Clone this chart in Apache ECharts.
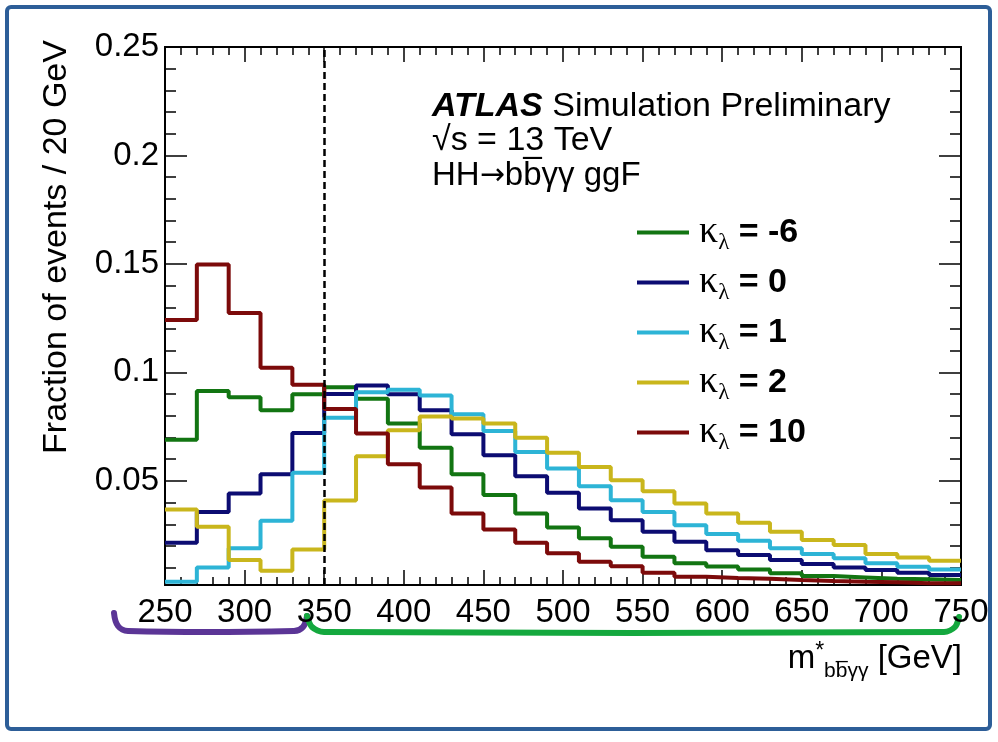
<!DOCTYPE html>
<html>
<head>
<meta charset="utf-8">
<script src="https://cdn.jsdelivr.net/npm/echarts@6/dist/echarts.min.js"></script>
<style>
  html, body { margin: 0; padding: 0; background: #ffffff; }
  #chart { width: 998px; height: 742px; }
</style>
</head>
<body>
<div id="chart"></div>
<script>
// Bin edges of m*(bbyy) in GeV (20 GeV bins)
const binEdges = [250, 270, 290, 310, 330, 350, 370, 390, 410, 430, 450, 470, 490,
                  510, 530, 550, 570, 590, 610, 630, 650, 670, 690, 710, 730, 750];

// Normalised fraction of events per bin for each kappa_lambda hypothesis
const kl_m6 = [0.0690, 0.0914, 0.0886, 0.0825, 0.0899, 0.0932, 0.0879, 0.0764, 0.0653, 0.0531,
               0.0435, 0.0350, 0.0285, 0.0235, 0.0196, 0.0150, 0.0120, 0.0105, 0.0092, 0.0074,
               0.0061, 0.0055, 0.0049, 0.0046, 0.0043];
const kl_0  = [0.0215, 0.0357, 0.0442, 0.0531, 0.0721, 0.0900, 0.0940, 0.0899, 0.0825, 0.0715,
               0.0618, 0.0521, 0.0445, 0.0373, 0.0319, 0.0265, 0.0219, 0.0180, 0.0158, 0.0135,
               0.0117, 0.0101, 0.0089, 0.0077, 0.0066];
const kl_1  = [0.0035, 0.0101, 0.0189, 0.0316, 0.0537, 0.0791, 0.0909, 0.0920, 0.0894, 0.0807,
               0.0730, 0.0633, 0.0557, 0.0475, 0.0411, 0.0357, 0.0295, 0.0255, 0.0224, 0.0189,
               0.0163, 0.0143, 0.0120, 0.0104, 0.0092];
const kl_2  = [0.0368, 0.0288, 0.0135, 0.0086, 0.0184, 0.0410, 0.0613, 0.0733, 0.0797, 0.0787,
               0.0764, 0.0699, 0.0630, 0.0564, 0.0503, 0.0452, 0.0396, 0.0350, 0.0307, 0.0265,
               0.0227, 0.0204, 0.0163, 0.0147, 0.0132];
const kl_10 = [0.1242, 0.1497, 0.1274, 0.1021, 0.0943, 0.0831, 0.0718, 0.0577, 0.0469, 0.0350,
               0.0276, 0.0215, 0.0166, 0.0127, 0.0107, 0.0077, 0.0058, 0.0052, 0.0049, 0.0043,
               0.0038, 0.0035, 0.0033, 0.0028, 0.0028];

const seriesDefs = [
  { name: '-6', values: kl_m6, color: '#127512' },
  { name: '0',  values: kl_0,  color: '#0c0c72' },
  { name: '1',  values: kl_1,  color: '#2db4d6' },
  { name: '2',  values: kl_2,  color: '#c9b61c' },
  { name: '10', values: kl_10, color: '#7c0a0a' }
];

// Axis ticks
const yMajor = [0.05, 0.1, 0.15, 0.2, 0.25];
const yMinor = [0.01, 0.02, 0.03, 0.04, 0.06, 0.07, 0.08, 0.09, 0.11, 0.12, 0.13, 0.14,
                0.16, 0.17, 0.18, 0.19, 0.21, 0.22, 0.23, 0.24];
const yMin = 0.002, yMax = 0.25;
const xMin = 250, xMax = 750;
const cutValue = 350;

const FONT = '"Liberation Sans", Arial, Helvetica, sans-serif';
const SERIF = '"Liberation Serif", "DejaVu Serif", serif';

// Histogram outline: one point per bin edge, last bin repeated at the upper edge
function histPoints(values) {
  return binEdges.map((e, i) => [e, values[Math.min(i, values.length - 1)]]);
}

const chart = echarts.init(document.getElementById('chart'), null, { renderer: 'canvas' });

const frame = { left: 165, top: 47, width: 796, height: 538 };

function yAxisDef(pos, custom, len, withLabels) {
  return {
    type: 'value', position: pos, min: yMin, max: yMax, gridIndex: 0,
    axisLine: { show: true, onZero: false, lineStyle: { color: '#000', width: 2 } },
    axisTick: { show: true, inside: true, length: len, customValues: custom,
                lineStyle: { color: '#000', width: 1.5 } },
    axisLabel: withLabels ? { show: true, customValues: custom, margin: 6,
                fontFamily: FONT, fontSize: 33, color: '#000',
                formatter: v => String(+v.toFixed(2)) } : { show: false },
    splitLine: { show: false }
  };
}

function xAxisDef(pos, withLabels, majorLen, minorLen) {
  return {
    type: 'value', position: pos, min: xMin, max: xMax, interval: 50, gridIndex: 0,
    axisLine: { show: true, onZero: false, lineStyle: { color: '#000', width: 2 } },
    axisTick: { show: true, inside: true, length: majorLen, lineStyle: { color: '#000', width: 1.5 } },
    minorTick: { show: true, splitNumber: 5, length: minorLen, lineStyle: { color: '#000', width: 1.5 } },
    axisLabel: withLabels ? { show: true, margin: 11, fontFamily: FONT, fontSize: 33, color: '#000' }
                          : { show: false },
    splitLine: { show: false }, minorSplitLine: { show: false }
  };
}

const series = seriesDefs.map(d => ({
  name: d.name,
  type: 'line',
  step: 'end',
  xAxisIndex: 0, yAxisIndex: 0,
  data: histPoints(d.values),
  showSymbol: false,
  symbol: 'none',
  lineStyle: { color: d.color, width: 4 },
  itemStyle: { color: d.color },
  clip: true,
  animation: false
}));

// Vertical dashed line marking the selection boundary
series.push({
  name: 'cut', type: 'line', data: [], xAxisIndex: 0, yAxisIndex: 0,
  markLine: {
    silent: true, symbol: 'none', animation: false,
    label: { show: false },
    lineStyle: { color: '#000', type: [7, 4], width: 2.5 },
    data: [{ xAxis: cutValue }]
  }
});

const option = {
  backgroundColor: '#ffffff',
  animation: false,
  grid: Object.assign({ containLabel: false, show: false }, frame),
  xAxis: [xAxisDef('bottom', true, 15, 8), xAxisDef('top', false, 15, 8)],
  yAxis: [
    yAxisDef('left', yMajor, 22, true),
    yAxisDef('left', yMinor, 11, false),
    yAxisDef('right', yMajor, 22, false),
    yAxisDef('right', yMinor, 11, false)
  ],
  legend: {
    orient: 'vertical', left: 637, top: 211, padding: 0,
    itemWidth: 52, itemHeight: 4, itemGap: 7,
    icon: 'rect',
    data: seriesDefs.map(d => d.name),
    formatter: name => '{k|κ}{s|λ}{v| = ' + name + '}',
    textStyle: {
      color: '#000',
      rich: {
        k: { fontFamily: SERIF, fontSize: 38, color: '#000', lineHeight: 44, padding: [0, 0, 0, 5] },
        s: { fontFamily: SERIF, fontSize: 23, color: '#000', padding: [20, 0, 0, 0], lineHeight: 44 },
        v: { fontFamily: FONT, fontWeight: 'bold', fontSize: 34, color: '#000', lineHeight: 44 }
      }
    }
  },
  graphic: [
    // outer panel border
    { type: 'rect', shape: { x: 7, y: 7, width: 983, height: 722, r: 4 },
      style: { fill: 'none', stroke: '#2d5e98', lineWidth: 4 }, z: 0, silent: true },
    // y-axis title
    { type: 'text', x: 57, y: 247, rotation: Math.PI / 2,
      style: { text: 'Fraction of events / 20 GeV', fontFamily: FONT, fontSize: 34, fill: '#000',
               align: 'center', verticalAlign: 'middle' } },
    // x-axis title
    { type: 'text', right: 36, top: 640,
      style: { text: '{m|m}{sup|*}{sub|bb̅γγ}{u| [GeV]}', fontFamily: FONT, fill: '#000',
               rich: {
                 m: { fontFamily: FONT, fontSize: 33, fill: '#000' },
                 sup: { fontFamily: FONT, fontSize: 23, fill: '#000', padding: [0, 0, 14, 0] },
                 sub: { fontFamily: FONT, fontSize: 21, fill: '#000', padding: [26, 0, 0, 0] },
                 u: { fontFamily: FONT, fontSize: 33, fill: '#000' }
               } } },
    // experiment label block
    { type: 'text', x: 432, y: 107,
      style: { text: '{b|ATLAS}{n| Simulation Preliminary}', verticalAlign: 'middle',
               rich: {
                 b: { fontFamily: FONT, fontSize: 34, fontWeight: 'bold', fontStyle: 'italic', fill: '#000' },
                 n: { fontFamily: FONT, fontSize: 34, fill: '#000' }
               } } },
    { type: 'text', x: 432, y: 141,
      style: { text: '√s = 13 TeV', fontFamily: FONT, fontSize: 34, fill: '#000', verticalAlign: 'middle' } },
    { type: 'text', x: 432, y: 176,
      style: { text: '{t|HH}{a|→}{t|bb̅γγ ggF}', verticalAlign: 'middle',
               rich: {
                 t: { fontFamily: FONT, fontSize: 33, fill: '#000' },
                 a: { fontFamily: '"DejaVu Sans", sans-serif', fontSize: 30, fill: '#000' }
               } } },
    // region brackets under the axis
    { type: 'polyline', shape: { points: [[114, 613], [118, 626], [128, 631], [294, 631], [303, 627], [307, 616]], smooth: 0.4 },
      style: { stroke: '#5b3596', lineWidth: 6, fill: 'none', lineCap: 'round' } },
    { type: 'polyline', shape: { points: [[307, 616], [312, 627], [324, 632], [944, 632], [955, 627], [959, 617]], smooth: 0.3 },
      style: { stroke: '#14a83e', lineWidth: 6, fill: 'none', lineCap: 'round' } }
  ],
  series: series
};

chart.setOption(option);
</script>
</body>
</html>
